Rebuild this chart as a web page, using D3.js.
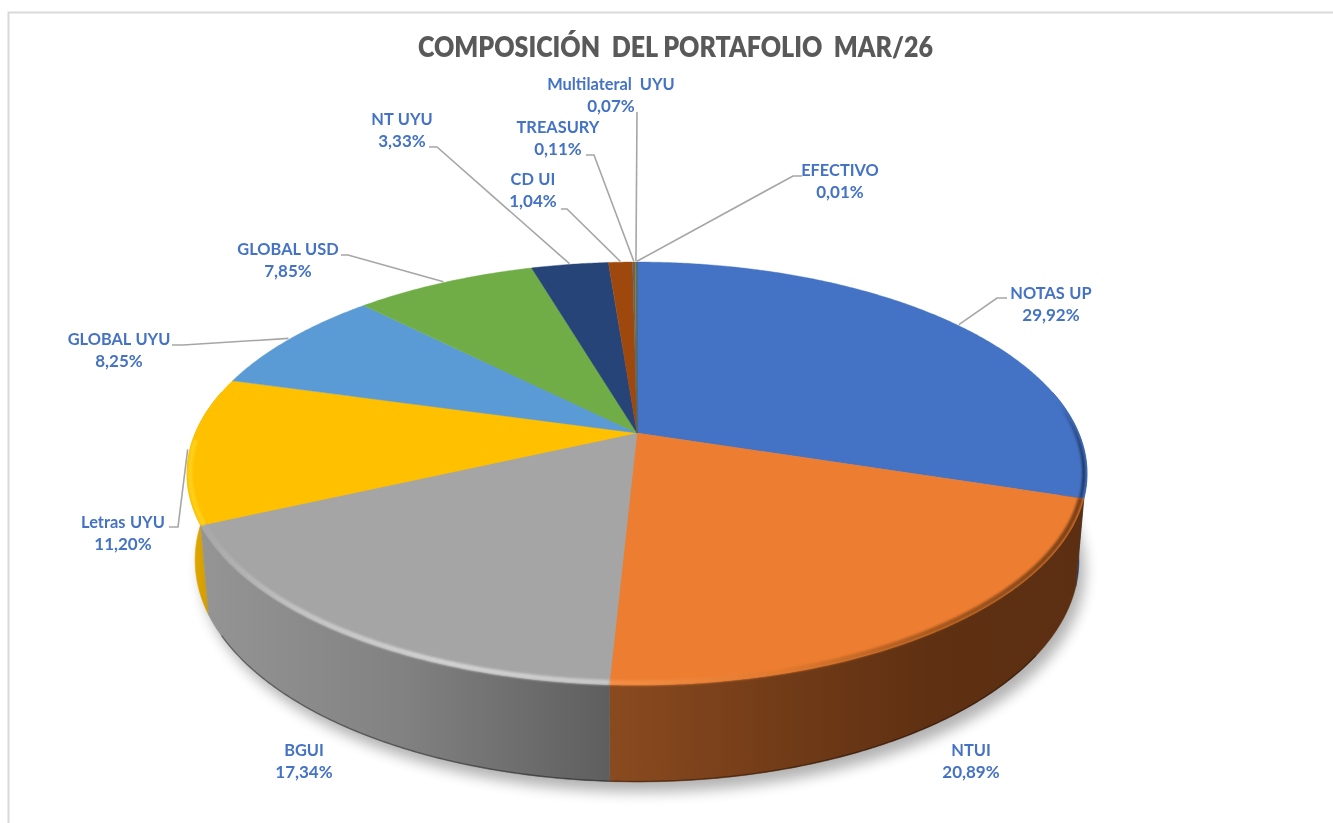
<!DOCTYPE html>
<html><head><meta charset="utf-8">
<script src="https://cdn.jsdelivr.net/npm/d3@7/dist/d3.min.js"></script>
<style>html,body{margin:0;padding:0;background:#fff;overflow:hidden}svg{display:block;filter:blur(0.35px)}</style>
</head><body><svg id="c" width="1333" height="823"></svg>
<script>
const categories = ["NOTAS UP","NTUI","BGUI","Letras UYU","GLOBAL UYU","GLOBAL USD","NT UYU","CD UI","TREASURY","Multilateral UYU","EFECTIVO"];
const values = [29.92,20.89,17.34,11.20,8.25,7.85,3.33,1.04,0.11,0.07,0.01];
const colors = ["#4472C4","#ED7D31","#A5A5A5","#FFC000","#5B9BD5","#70AD47","#264478","#9E480E","#636363","#997300","#255E91"];
const titleText = "COMPOSICIÓN  DEL PORTAFOLIO  MAR/26";

// label layout: text centre of the name line, and where the leader meets the label (null = no leader)
const labelCentres = [[1051,293],[971,750],[304,750],[123,522],[119,339],[288,249],[402,119],[533,179],[558,127],[611,84],[840,170]];
const leaderElbows = [[[997,298],[1007,298]],null,null,[[178,527],[169,527]],[[183,345],[172,345]],[[348,255],[341,255]],[[437,147],[429,147]],[[567,209],[561,209]],[[594,155],[586,155]],[[637,112]],[[793,176],[802,176]]];

// wall shading: visible arc range in degrees (clockwise from top) and gradient stops [x, colour]
const wallSpec = [
 {i:0, a0:78, a1:null, stops:[[1000,"#2b4a85"],[1090,"#1c3360"]]},
 {i:3, a0:null, a1:282, stops:[[188,"#e8ae00"],[215,"#c99500"]]},
 {i:1, a0:null, a1:null, stops:[[611,"#8a4a1f"],[800,"#6f3a17"],[930,"#5f3012"],[1090,"#5c2f12"]]},
 {i:2, a0:null, a1:null, stops:[[205,"#949494"],[400,"#828282"],[530,"#6c6c6c"],[611,"#5e5e5e"]]}
];
const rimSpec = [
 {i:0, a0:80, a1:null, w:3, stops:[[1060,"#4472C4"],[1088,"#16294e"]]},
 {i:1, a0:null, a1:null, w:5, stops:[[611,"#f58f45"],[780,"#e27a2e"],[930,"#a8591f"],[1085,"#7a4016"]]},
 {i:2, a0:null, a1:null, w:5, stops:[[205,"#a8a8a8"],[300,"#c4c4c4"],[450,"#d2d2d2"],[611,"#c8c8c8"]]},
 {i:3, a0:null, a1:268, w:4, stops:[[188,"#ffd21a"],[215,"#ffd21a"]]}
];

const W=1333,H=823;
const svg=d3.select("#c");
const defs=svg.append("defs");
const blur=(id,s)=>defs.append("filter").attr("id",id).attr("x","-20%").attr("y","-20%").attr("width","140%").attr("height","140%").append("feGaussianBlur").attr("stdDeviation",s);
blur("bShadow",7); blur("bRim",1.3); blur("bEdge",0.7);

svg.append("rect").attr("width",W).attr("height",H).attr("fill","#fff");
svg.append("path").attr("d",`M8.5,${H}V12.5H${W}`).attr("fill","none").attr("stroke","#d9d9d9").attr("stroke-width",2);

// perspective projection of the unit disk onto the page
const cx=637, cy=433, k=0.1915;
const sx=d3.scaleLinear().domain([-1,1]).range([cx-441.7,cx+441.7]);
const sy=d3.scaleLinear().domain([-1,1]).range([cy-203.7,cy+203.7]);
const depth=d3.scaleLinear().domain([0,1]).range([84,97]);
const proj=(a,r=1)=>{const u=Math.sin(a)*r,v=-Math.cos(a)*r,s=1/(1-k*v);
  return [cx+(sx(u)-cx)*s, cy+(sy(v)-cy)*s];};
const projLow=(a)=>{const [x,y]=proj(a);const v=-Math.cos(a);return [cx+(x-cx)*0.982,y+depth(v)];};
const line=d3.line();
const arcAngles=(a0,a1,step=0.008)=>{const n=Math.max(2,Math.ceil(Math.abs(a1-a0)/step));return d3.range(n+1).map(j=>a0+(a1-a0)*j/n);};

const arcs=d3.pie().sort(null).value(d=>d)(values);
const deg=Math.PI/180;

// ground shadow
const shadowPts=arcAngles(0,2*Math.PI).map(projLow).map(([x,y])=>[x+6,y+10]);
svg.append("path").attr("d",line(shadowPts)+"Z").attr("fill","#000").attr("opacity",.3).attr("filter","url(#bShadow)");

const grad=(id,stops)=>{const g=defs.append("linearGradient").attr("id",id).attr("gradientUnits","userSpaceOnUse")
   .attr("x1",stops[0][0]).attr("x2",stops[stops.length-1][0]).attr("y1",0).attr("y2",0);
 const x0=stops[0][0],x1=stops[stops.length-1][0];
 stops.forEach(([x,c])=>g.append("stop").attr("offset",(x-x0)/(x1-x0)).attr("stop-color",c));};

// walls
const pie=svg.append("g");
wallSpec.forEach(w=>{
  const d=arcs[w.i];
  const a0=w.a0==null?d.startAngle:w.a0*deg, a1=w.a1==null?d.endAngle:w.a1*deg;
  const top=arcAngles(a0,a1).map(a=>proj(a));
  const low=arcAngles(a0,a1).map(projLow).reverse();
  grad("w"+w.i,w.stops);
  pie.append("path").attr("d",line(top.concat(low))+"Z").attr("fill",`url(#w${w.i})`).attr("stroke",`url(#w${w.i})`).attr("stroke-width",.5);
});
// darker lower edge of the wall
pie.append("path").attr("d",line(arcAngles(125*deg,240*deg).map(projLow).map(([x,y])=>[x,y-0.5])))
  .attr("fill","none").attr("stroke","#000").attr("stroke-opacity",.35).attr("stroke-width",1.4).attr("filter","url(#bEdge)");

// top face
pie.selectAll("path.slice").data(arcs).join("path").attr("class","slice")
  .attr("d",d=>line([proj(0,0)].concat(arcAngles(d.startAngle,d.endAngle).map(a=>proj(a))))+"Z")
  .attr("fill",(d,i)=>colors[i]).attr("stroke",(d,i)=>colors[i]).attr("stroke-width",.4);

// bevelled rim
rimSpec.forEach(w=>{
  const d=arcs[w.i];
  const a0=w.a0==null?d.startAngle:w.a0*deg, a1=w.a1==null?d.endAngle:w.a1*deg;
  grad("r"+w.i,w.stops);
  pie.append("path").attr("d",line(arcAngles(a0,a1).map(a=>proj(a,0.993))))
   .attr("fill","none").attr("stroke",`url(#r${w.i})`).attr("stroke-width",w.w).attr("filter","url(#bRim)");
});

// leaders
const g=svg.append("g");
arcs.forEach((d,i)=>{
  const e=leaderElbows[i]; if(!e) return;
  const mid=(d.startAngle+d.endAngle)/2;
  const pts=[proj(mid,1.005)].concat(e);
  g.append("path").attr("d",line(pts)).attr("fill","none").attr("stroke","#a6a6a6").attr("stroke-width",1.6);
});

// labels
const fmt=v=>v.toFixed(2).replace(".",",")+"%";
const LF="Lato, 'Open Sans', sans-serif";
categories.forEach((c,i)=>{
  const [x,y]=labelCentres[i];
  const t=g.append("text").attr("text-anchor","middle").attr("font-family",LF).attr("font-weight",700).attr("font-size",16.4).attr("fill","#4472C4").attr("word-spacing",c.startsWith("Multi")?4:0.5);
  t.append("tspan").attr("x",x).attr("y",y+6.2).text(c);
  t.append("tspan").attr("x",x).attr("y",y+28.2).attr("font-size",17).text(fmt(values[i]));
});
svg.append("text").attr("x",675.5).attr("y",56.5).attr("text-anchor","middle").attr("font-family",LF).attr("font-weight",800)
  .attr("font-size",29).attr("fill","#595959").attr("xml:space","preserve").style("white-space","pre")
  .attr("textLength",515).attr("lengthAdjust","spacingAndGlyphs").text(titleText);
</script></body></html>
